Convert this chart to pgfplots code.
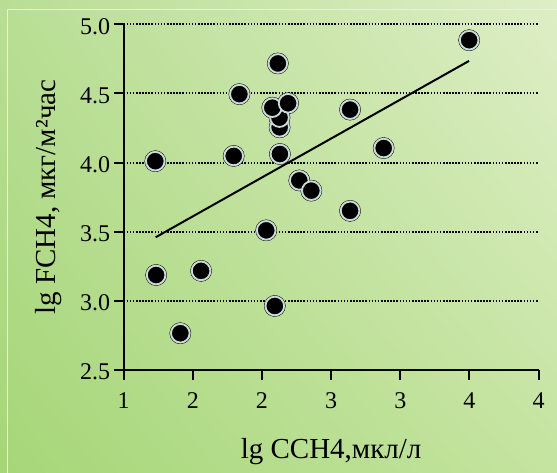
\documentclass[border=0pt]{standalone}
\usepackage{fontspec}
\setmainfont{Liberation Serif}
\usepackage{pgfplots}
\pgfplotsset{compat=1.18}
\usetikzlibrary{shadings}

\definecolor{bgLL}{RGB}{166,214,120}
\definecolor{bgUL}{RGB}{184,222,148}
\definecolor{bgUR}{RGB}{222,238,198}
\definecolor{bgLR}{RGB}{196,228,160}
\definecolor{framecol}{RGB}{228,242,218}
\definecolor{ringcol}{RGB}{205,218,218}
\definecolor{edgecol}{RGB}{120,135,135}

\begin{document}
\begin{tikzpicture}
\useasboundingbox (-123.6bp,-103bp) rectangle (433.4bp,370bp);
\shade[lower left=bgLL, upper left=bgUL, upper right=bgUR, lower right=bgLR]
  (-123.6bp,-103bp) rectangle (433.4bp,370bp);
\draw[framecol, line width=1bp] (-115.6bp,-103bp) -- (-115.6bp,360bp) -- (433.4bp,360bp);
\begin{axis}[
  at={(0bp,0bp)}, anchor=south west,
  width=415bp, height=345.7bp, scale only axis,
  xmin=1, xmax=4, ymin=2.5, ymax=5,
  axis lines=left,
  axis line style={-, line width=2bp, black},
  tick align=outside,
  major tick length=10bp,
  tick style={line width=2bp, black},
  xtick={1,1.5,2,2.5,3,3.5,4},
  xticklabels={1,2,2,3,3,4,4},
  ytick={2.5,3,3.5,4,4.5,5},
  yticklabels={2.5,3.0,3.5,4.0,4.5,5.0},
  ymajorgrids,
  grid style={black, line width=2bp, dash pattern=on 1.6bp off 1.5bp},
  tick label style={font=\fontsize{24bp}{28bp}\selectfont},
  xticklabel style={yshift=-9bp},
  yticklabel style={yshift=-2bp},
  xlabel={lg CCH4,мкл/л},
  ylabel={lg FCH4, мкг/м²час},
  every axis x label/.style={at={(axis description cs:0.5,-0.237)}, anchor=center,
    font=\fontsize{29bp}{34bp}\selectfont},
  every axis y label/.style={at={(axis description cs:-0.18,0.5)}, anchor=center, rotate=90,
    font=\fontsize{29bp}{34bp}\selectfont},
  clip=false,
]
\addplot[black, line width=2bp] coordinates {(1.232,3.460) (3.497,4.735)};
\addplot[only marks, mark=*, mark size=10.6bp, mark options={fill=edgecol, draw=none}]
  coordinates {
  (1.229,4.010) (1.235,3.187) (1.410,2.766) (1.560,3.217) (1.796,4.048)
  (1.837,4.495) (2.031,3.510) (2.093,2.963) (2.115,4.717) (2.128,4.255)
  (2.127,4.325) (2.075,4.397) (2.189,4.429) (2.130,4.062) (2.270,3.871)
  (2.357,3.797) (2.637,4.383) (2.637,3.651) (2.880,4.105) (3.498,4.885)
  };
\addplot[only marks, mark=*, mark size=9.3bp, mark options={fill=black, draw=ringcol, line width=1.8bp}]
  coordinates {
  (1.229,4.010) (1.235,3.187) (1.410,2.766) (1.560,3.217) (1.796,4.048)
  (1.837,4.495) (2.031,3.510) (2.093,2.963) (2.115,4.717) (2.128,4.255)
  (2.127,4.325) (2.075,4.397) (2.189,4.429) (2.130,4.062) (2.270,3.871)
  (2.357,3.797) (2.637,4.383) (2.637,3.651) (2.880,4.105) (3.498,4.885)
  };
\end{axis}
\end{tikzpicture}
\end{document}
